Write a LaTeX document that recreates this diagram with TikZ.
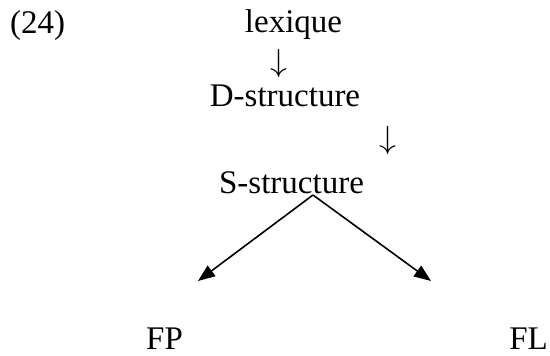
\documentclass[tikz,border=0pt]{standalone}
\usepackage{fontspec}
\setmainfont{Liberation Serif}
\usetikzlibrary{arrows.meta}
\newcommand{\bigdarr}{\scalebox{3.4}[3.2]{\fontsize{10}{12}\selectfont$\downarrow$}}
\begin{document}
\begin{tikzpicture}[x=1pt,y=-1pt,
  txt/.style={inner sep=0pt, font=\fontsize{33}{40}\selectfont},
  darr/.style={inner sep=0pt},
  conn/.style={line width=1.6pt, -{Triangle[length=17pt,width=13pt]}}]
\useasboundingbox (0,0) rectangle (550,356);
\node[txt, anchor=base west] (ex) at (10,33) {(24)};
\node[txt, anchor=base] (lex) at (293.5,32) {lexique};
\node[darr, anchor=center] (a1) at (279,63.5) {\bigdarr};
\node[txt, anchor=base] (ds) at (285,106) {D-structure};
\node[darr, anchor=center] (a2) at (388,140) {\bigdarr};
\node[txt, anchor=base] (ss) at (291.5,193) {S-structure};
\node[txt, anchor=base west] (fp) at (146,349) {FP};
\node[txt, anchor=base east] (fl) at (548,349) {FL};
\coordinate (sfoot) at (313,195);
\coordinate (fpend) at (198,281);
\coordinate (flend) at (431,281);
\draw[conn] (sfoot) -- (fpend);
\draw[conn] (sfoot) -- (flend);
\end{tikzpicture}
\end{document}
